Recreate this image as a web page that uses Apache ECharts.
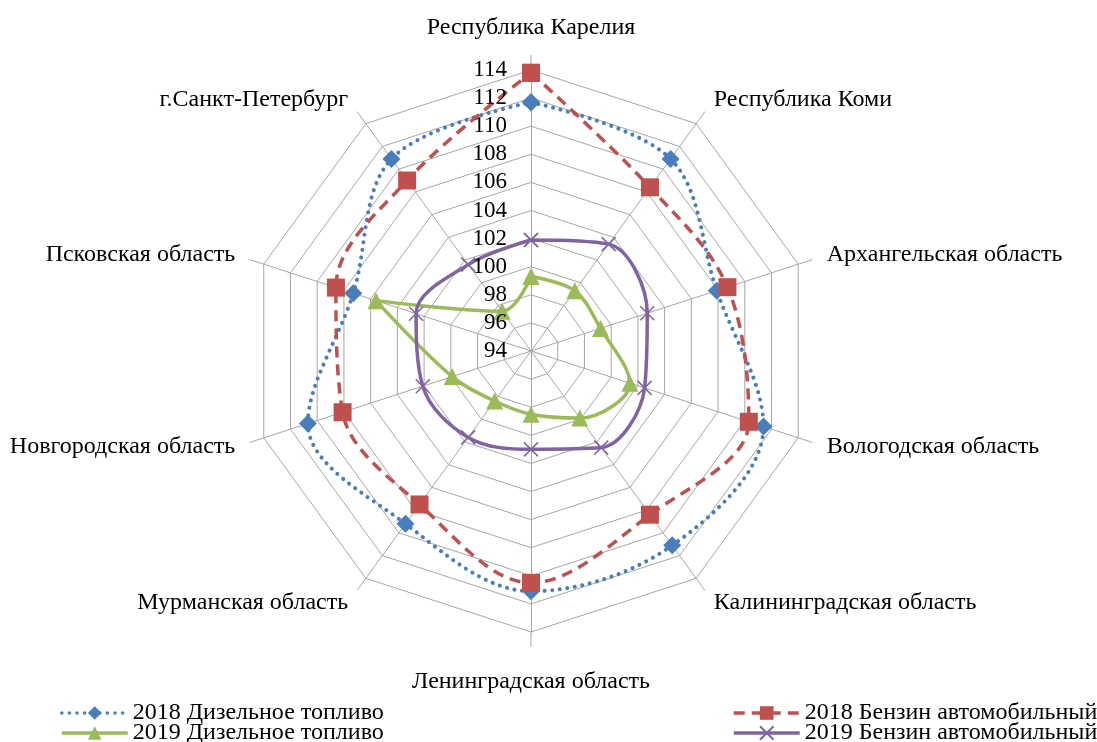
<!DOCTYPE html>
<html>
<head>
<meta charset="utf-8">
<script src="https://cdn.jsdelivr.net/npm/echarts@6/dist/echarts.min.js"></script>
<style>
  html, body { margin: 0; padding: 0; background: #fff; }
  #chart { width: 1097px; height: 742px; }
</style>
</head>
<body>
<div id="chart"></div>
<script>
// categories clockwise from the top
const categories = [
  'Республика Карелия',
  'Республика Коми',
  'Архангельская область',
  'Вологодская область',
  'Калининградская область',
  'Ленинградская область',
  'Мурманская область',
  'Новгородская область',
  'Псковская область',
  'г.Санкт-Петербург'
];
const diesel2018 = [111.7, 110.9, 107.9, 111.4, 111.1, 111.1, 109.2, 110.7, 107.3, 110.9];
const petrol2018 = [113.8, 108.4, 108.7, 110.3, 108.4, 110.5, 107.5, 108.1, 108.6, 109.0];
const diesel2019 = [99.3, 99.3, 99.2, 101.4, 99.9, 98.5, 98.4, 99.9, 105.6, 97.5];
const petrol2019 = [101.9, 103.4, 102.7, 102.5, 102.5, 101.0, 101.6, 102.1, 102.6, 101.6];
const axisMin = 94;
const axisMax = 114;
const axisStep = 2;

const FONT = 'Liberation Serif';
const GRID = '#a6a6a6';
const center = [531, 351];
const radius = 281;
const step = 360 / categories.length;

// polar points [value, angle], closed back to the first category
const toPolar = (values) =>
  values.map((v, i) => [v, i * step]).concat([[values[0], 360]]);

// radar runs counter-clockwise, so feed it the names in reverse
const radarOrder = categories.map((_, i) => categories[(categories.length - i) % categories.length]);
const bottomName = categories[categories.length / 2];

const legendBase = {
  orient: 'vertical',
  top: 696,
  height: 80,
  itemWidth: 66,
  itemHeight: 17,
  itemGap: -4,
  lineStyle: { width: 3.5 },
  textStyle: { color: '#000', fontFamily: FONT, fontSize: 24, lineHeight: 21 }
};

const chart = echarts.init(document.getElementById('chart'));
chart.setOption({
  animation: false,
  radar: {
    center: center,
    radius: radius,
    startAngle: 90,
    splitNumber: (axisMax - axisMin) / axisStep,
    shape: 'polygon',
    nameGap: 30,
    indicator: radarOrder.map((name) => ({ name, min: axisMin, max: axisMax })),
    axisName: {
      color: '#000',
      fontFamily: FONT,
      fontSize: 24,
      formatter: (name) => (name === bottomName ? '{low|' + name + '}' : name),
      rich: { low: { fontFamily: FONT, fontSize: 24, color: '#000', padding: [8, 0, 0, 0] } }
    },
    axisLine: { lineStyle: { color: GRID, width: 1 } },
    splitLine: { lineStyle: { color: GRID, width: 1 } },
    splitArea: { show: false },
    axisLabel: { show: false },
    axisTick: { show: false }
  },
  polar: { center: center, radius: radius },
  angleAxis: {
    type: 'value',
    min: 0,
    max: 360,
    interval: step,
    startAngle: 90,
    clockwise: true,
    axisLine: { show: false },
    axisTick: { show: true, length: 15, lineStyle: { color: GRID, width: 1 } },
    axisLabel: { show: false },
    splitLine: { show: false }
  },
  radiusAxis: {
    type: 'value',
    min: axisMin,
    max: axisMax,
    interval: axisStep,
    axisLine: { show: false },
    axisTick: { show: false },
    splitLine: { show: false },
    axisLabel: { color: '#000', fontFamily: FONT, fontSize: 23, margin: 24 },
    z: 5
  },
  legend: [
    Object.assign({}, legendBase, {
      data: ['2018 Дизельное топливо', '2019 Дизельное топливо'],
      left: 55
    }),
    Object.assign({}, legendBase, {
      data: ['2018 Бензин автомобильный', '2019 Бензин автомобильный'],
      left: 727
    })
  ],
  series: [
    {
      name: '2018 Дизельное топливо',
      type: 'line',
      coordinateSystem: 'polar',
      data: toPolar(diesel2018),
      smooth: 0.35,
      symbol: 'diamond',
      symbolSize: 18,
      itemStyle: { color: '#4a7ebb' },
      lineStyle: { color: '#4a7ebb', width: 4, type: [0.1, 7.5], cap: 'round' }
    },
    {
      name: '2018 Бензин автомобильный',
      type: 'line',
      coordinateSystem: 'polar',
      data: toPolar(petrol2018),
      smooth: 0.35,
      symbol: 'rect',
      symbolSize: 18,
      itemStyle: { color: '#c0504d' },
      lineStyle: { color: '#c0504d', width: 3.5, type: [11, 7] }
    },
    {
      name: '2019 Дизельное топливо',
      type: 'line',
      coordinateSystem: 'polar',
      data: toPolar(diesel2019),
      smooth: 0.35,
      symbol: 'triangle',
      symbolSize: 17,
      itemStyle: { color: '#9bbb59' },
      lineStyle: { color: '#9bbb59', width: 3.5 }
    },
    {
      name: '2019 Бензин автомобильный',
      type: 'line',
      coordinateSystem: 'polar',
      data: toPolar(petrol2019),
      smooth: 0.35,
      symbol: 'path://M0,0L10,10M10,0L0,10',
      symbolSize: 14,
      itemStyle: { color: 'none', borderColor: '#8064a2', borderWidth: 1.5 },
      lineStyle: { color: '#8064a2', width: 3.5 }
    }
  ]
});
</script>
</body>
</html>
